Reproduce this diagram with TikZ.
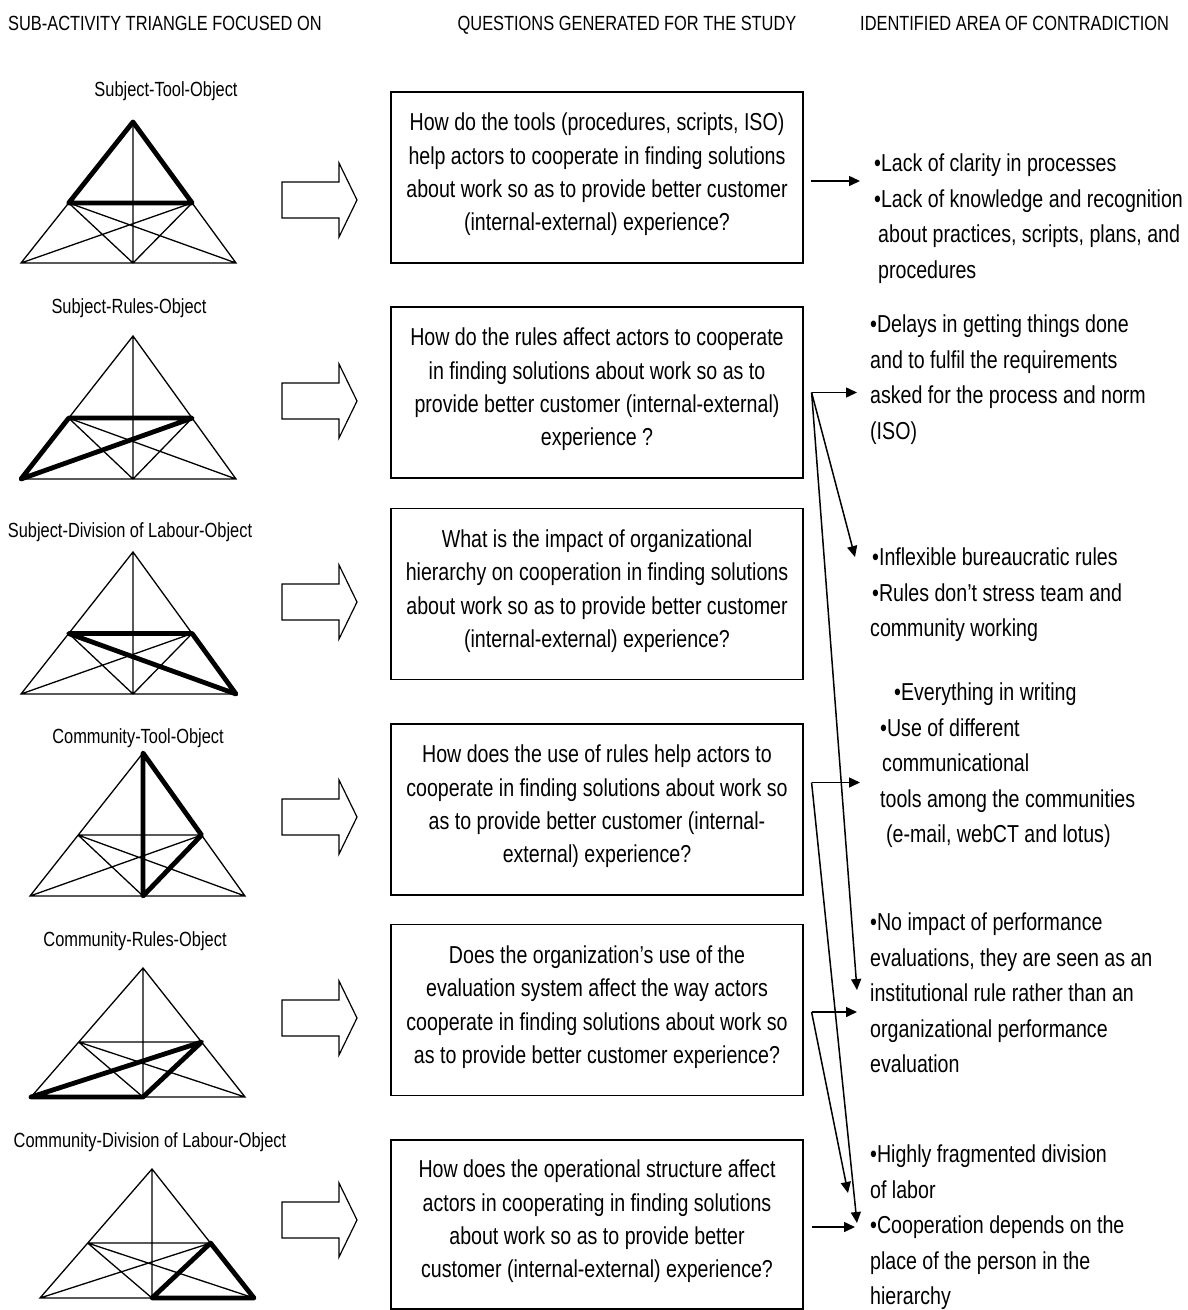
\documentclass[tikz,border=0pt]{standalone}
\usepackage{fontspec}
\setmainfont[FakeStretch=0.8]{Liberation Sans}
\usetikzlibrary{calc,arrows.meta}
\newcommand\tailpad{\rule[-11pt]{0pt}{11pt}}
\newcommand\trifig[5]{%
  \coordinate (#1A) at #2;
  \coordinate (#1L) at #3;
  \coordinate (#1R) at #4;
  \coordinate (#1C) at (#1A |- #1L);
  \coordinate (#1ML) at ($(#1L)!0.426!(#1A)$);
  \coordinate (#1MR) at ($(#1R)!0.426!(#1A)$);
  \draw[thinl] (#1A) -- (#1L) -- (#1R) -- cycle
    (#1A) -- (#1C) (#1ML) -- (#1MR) (#1ML) -- (#1C) -- (#1MR)
    (#1ML) -- (#1R) (#1MR) -- (#1L);
  \draw[thickl] #5;
}
\newcommand\blockarrow[1]{%
  \draw[barrow] (282,{#1-18}) -- (339,{#1-18}) -- (339,{#1-37}) -- (357,#1)
    -- (339,{#1+37}) -- (339,{#1+18}) -- (282,{#1+18}) -- cycle;
}
\tikzset{
  qbox/.style={draw, line width=1.2pt, minimum width=412pt, minimum height=171pt,
    inner sep=0pt, align=center, font=\fontsize{24.5}{33.3}\selectfont},
  rtext/.style={anchor=north west, inner sep=0pt, align=left,
    font=\fontsize{24.5}{35.5}\selectfont},
  headtext/.style={inner sep=0pt, font=\fontsize{20.5}{24}\selectfont},
  tlabel/.style={anchor=base, inner sep=0pt, font=\fontsize{20.5}{24}\selectfont},
  thinl/.style={line width=1.3pt},
  thickl/.style={line width=4.8pt, line cap=round, line join=round},
  barrow/.style={line width=1.2pt, line join=miter},
  conn/.style={line width=1.5pt, -{Triangle[length=11pt,width=10pt]}},
}
\begin{document}
\begin{tikzpicture}[x=1pt,y=-1pt]
\useasboundingbox (0,0) rectangle (1187,1310);

% headers
\node[headtext, anchor=base west] (h1) at (8,30.3) {SUB-ACTIVITY TRIANGLE FOCUSED ON};
\node[headtext, anchor=base] (h2) at (627,30.3) {QUESTIONS GENERATED FOR THE STUDY};
\node[headtext, anchor=base west] (h3) at (860,30.3) {IDENTIFIED AREA OF CONTRADICTION};

% triangle labels
\node[tlabel] (l1) at (166,96.5) {Subject-Tool-Object};
\node[tlabel] (l2) at (129,313) {Subject-Rules-Object};
\node[tlabel] (l3) at (130,537) {Subject-Division of Labour-Object};
\node[tlabel] (l4) at (138,743) {Community-Tool-Object};
\node[tlabel] (l5) at (135,946) {Community-Rules-Object};
\node[tlabel] (l6) at (150,1147) {Community-Division of Labour-Object};

% triangles
\trifig{a}{(133,122)}{(21,263)}{(236,263)}{(aA) -- (aML) -- (aMR) -- cycle}
\trifig{b}{(133,336)}{(21,479)}{(236,479)}{(bML) -- (bMR) -- (bL) -- cycle}
\trifig{c}{(133,552)}{(21,694)}{(236,694)}{(cML) -- (cMR) -- (cR) -- cycle}
\trifig{d}{(143,753)}{(30,896)}{(245,896)}{(dA) -- (dC) -- (dMR) -- cycle}
\trifig{e}{(143,968)}{(31,1097)}{(245,1097)}{(eL) -- (eC) -- (eMR) -- cycle}
\trifig{f}{(152,1169)}{(40,1298)}{(254,1298)}{(fC) -- (fR) -- (fMR) -- cycle}

% block arrows
\blockarrow{200}
\blockarrow{401}
\blockarrow{602}
\blockarrow{817}
\blockarrow{1018}
\blockarrow{1220}

% question boxes
\node[qbox] (q1) at (597,177.5) {How do the tools (procedures, scripts, ISO)\\help actors to cooperate in finding solutions\\about work so as to provide better customer\\(internal-external) experience?\tailpad};
\node[qbox] (q2) at (597,392.5) {How do the rules affect actors to cooperate\\in finding solutions about work so as to\\provide better customer (internal-external)\\experience ?\tailpad};
\node[qbox] (q3) at (597,594) {What is the impact of organizational\\hierarchy on cooperation in finding solutions\\about work so as to provide better customer\\(internal-external) experience?\tailpad};
\node[qbox] (q4) at (597,809.5) {How does the use of rules help actors to\\cooperate in finding solutions about work so\\as to provide better customer (internal-\\external) experience?\tailpad};
\node[qbox] (q5) at (597,1010) {Does the organization’s use of the\\evaluation system affect the way actors\\cooperate in finding solutions about work so\\as to provide better customer experience?\tailpad};
\node[qbox, minimum height=169pt] (q6) at (597,1224.5) {How does the operational structure affect\\actors in cooperating in finding solutions\\about work so as to provide better\\customer (internal-external) experience?\tailpad};

% contradiction texts
\node[rtext] (r1) at (874,154) {•Lack of clarity in processes\\•Lack of knowledge and recognition\\\hspace*{4pt}about practices, scripts, plans, and\\\hspace*{4pt}procedures};
\node[rtext] (r2) at (870,315) {•Delays in getting things done\\and to fulfil the requirements\\asked for the process and norm\\(ISO)};
\node[rtext] (r3) at (870,548) {\hspace*{2pt}•Inflexible bureaucratic rules\\\hspace*{2pt}•Rules don’t stress team and\\community working};
\node[rtext] (r4) at (876,683) {\hspace*{18pt}•Everything in writing\\\hspace*{4pt}•Use of different\\\hspace*{6pt}communicational\\\hspace*{4pt}tools among the communities\\\hspace*{10pt}(e-mail, webCT and lotus)};
\node[rtext] (r5) at (870,913) {•No impact of performance\\evaluations, they are seen as an\\institutional rule rather than an\\organizational performance\\evaluation};
\node[rtext] (r6) at (870,1145) {•Highly fragmented division\\of labor\\•Cooperation depends on the\\place of the person in the\\hierarchy};

% connector ends
\coordinate (s1) at ([shift={(7,3.5)}]q1.east);
\coordinate (s2) at ([shift={(8,0)}]q2.east);
\coordinate (s4) at ([shift={(8,-27)}]q4.east);
\coordinate (s5) at ([shift={(8,2)}]q5.east);
\coordinate (s6) at ([shift={(8,2.5)}]q6.east);
\coordinate (e1) at (860,181);
\coordinate (e2a) at (857,392.5);
\coordinate (e2b) at (855,557);
\coordinate (e2c) at (857,990);
\coordinate (e4a) at (860,782.5);
\coordinate (e4b) at (857,1223);
\coordinate (e5a) at (857,1012);
\coordinate (e5b) at (848,1193);
\coordinate (e6) at (855,1227);

\draw[conn] (s1) -- (e1);
\draw[conn] (s2) -- (e2a);
\draw[conn] (s2) -- (e2b);
\draw[conn] (s2) -- (e2c);
\draw[conn] (s4) -- (e4a);
\draw[conn] (s4) -- (e4b);
\draw[conn] (s5) -- (e5a);
\draw[conn] (s5) -- (e5b);
\draw[conn] (s6) -- (e6);
\end{tikzpicture}
\end{document}
